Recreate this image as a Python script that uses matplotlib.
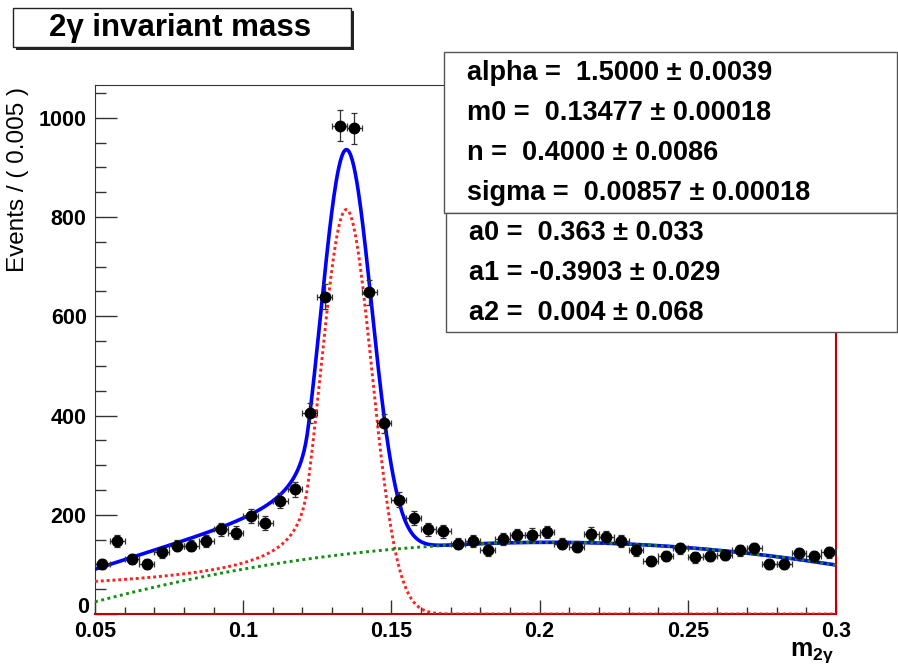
import numpy as np
import matplotlib
matplotlib.use('Agg')
import matplotlib.pyplot as plt
from matplotlib.patches import Rectangle
from matplotlib.ticker import MultipleLocator

plt.rcParams['font.family'] = ['Liberation Sans', 'DejaVu Sans']
plt.rcParams['mathtext.fontset'] = 'custom'
plt.rcParams['mathtext.rm'] = 'Liberation Sans:bold'
plt.rcParams['mathtext.it'] = 'Liberation Sans:bold'
plt.rcParams['mathtext.bf'] = 'Liberation Sans:bold'

# binned data, bin width 0.005 from 0.05 to 0.3
bin_lo = 0.05
bin_w = 0.005
counts = [101, 148, 111, 100, 124, 138, 138, 148, 171, 164,
          198, 183, 228, 251, 406, 639, 984, 979, 648, 384,
          230, 193, 171, 167, 142, 147, 129, 151, 159, 160,
          165, 142, 136, 162, 155, 147, 129, 107, 117, 132,
          114, 117, 119, 128, 132, 101, 101, 122, 116, 124]

# fit parameters (from the stats box)
alpha, m0, n_cb, sigma = 1.5000, 0.13477, 0.4000, 0.00857
a0, a1, a2 = 0.363, -0.3903, 0.004
sig_peak = 815.0   # height of signal component at m0
bg_scale = 101.0   # scale of background polynomial

stat_lines_sig = ['alpha =  1.5000 \u00b1 0.0039',
                  'm0 =  0.13477 \u00b1 0.00018',
                  'n =  0.4000 \u00b1 0.0086',
                  'sigma =  0.00857 \u00b1 0.00018']
stat_lines_bg = ['a0 =  0.363 \u00b1 0.033',
                 'a1 = -0.3903 \u00b1 0.029',
                 'a2 =  0.004 \u00b1 0.068']
xtick_vals = [0.05, 0.1, 0.15, 0.2, 0.25, 0.3]
xtick_labels = ['0.05', '0.1', '0.15', '0.2', '0.25', '0.3']
ytick_vals = [0, 200, 400, 600, 800, 1000]
ytick_labels = ['', '200', '400', '600', '800', '1000']  # "0" drawn separately


def crystal_ball(x):
    t = (x - m0) / sigma
    A = (n_cb / abs(alpha)) ** n_cb * np.exp(-alpha ** 2 / 2)
    B = n_cb / abs(alpha) - abs(alpha)
    core = np.exp(-t ** 2 / 2)
    tail = A / np.abs(B - t) ** n_cb
    return np.where(t > -alpha, core, tail)


def chebychev(x):
    u = 2 * (x - 0.05) / 0.25 - 1
    return 1 + a0 * u + a1 * (2 * u ** 2 - 1) + a2 * (4 * u ** 3 - 3 * u)


centers = bin_lo + bin_w * (np.arange(len(counts)) + 0.5)
counts = np.array(counts)
errs = np.sqrt(counts)

xs = np.linspace(0.05, 0.3, 1000)
sig = sig_peak * crystal_ball(xs)
bkg = bg_scale * chebychev(xs)

fig = plt.figure(figsize=(8.98, 6.71), dpi=100)
ax = fig.add_axes([95 / 898, 1 - 614 / 671, 741 / 898, 529 / 671])

ax.plot(xs, sig + bkg, color='#0000ff', lw=2.6, zorder=3)
ax.plot(xs, sig, color='#ff2020', lw=2.1, ls=(0, (1, 1)), zorder=4)
ax.plot(xs, bkg, color='#109010', lw=2.1, ls=(0, (1, 1.2)), zorder=4)
ax.errorbar(centers, counts, yerr=errs, xerr=bin_w / 2, fmt='o', color='black',
            ms=7.5, ecolor='#333333', elinewidth=0.9, capsize=2, capthick=0.9, zorder=5)

ax.set_xlim(0.05, 0.3)
ax.set_ylim(0, 1066)
ax.xaxis.set_minor_locator(MultipleLocator(0.01))
ax.yaxis.set_minor_locator(MultipleLocator(50))
ax.tick_params(axis='x', which='major', direction='in', length=10, width=1, color='#333333',
               labelsize=15.5, pad=5)
ax.tick_params(axis='x', which='minor', direction='in', length=5, width=1, color='#333333')
ax.tick_params(axis='y', which='major', direction='in', length=16, width=1, color='#333333',
               labelsize=15.5, pad=6)
ax.tick_params(axis='y', which='minor', direction='in', length=8, width=1, color='#333333')
ax.set_xticks(xtick_vals)
ax.set_xticklabels(xtick_labels, fontweight='bold')
ax.set_yticks(ytick_vals)
ax.set_yticklabels(ytick_labels, fontweight='bold')
# the "0" on the y axis sits a little higher, just above the "0.05"
ax.annotate('0', xy=(0, 0), xycoords=('axes fraction', 'data'), xytext=(-4.5, 5),
            textcoords='offset points', ha='right', va='center',
            fontsize=15.5, fontweight='bold', annotation_clip=False)

for s in ['top', 'left']:
    ax.spines[s].set_color('#333333')
for s in ['bottom', 'right']:
    ax.spines[s].set_color('#c00000')
    ax.spines[s].set_linewidth(1.5)

fig.text(18 / 898, 1 - 87 / 671, 'Events / ( 0.005 )', rotation=90, ha='center', va='top',
         fontsize=17.5)
fig.text(834 / 898, 1 - 653 / 671, r'm$_{2\gamma}$', ha='right', va='center',
         fontsize=18, fontweight='bold')

# title box with shadow
fig.patches.append(Rectangle((16 / 898, 1 - 50 / 671), 338 / 898, 39 / 671,
                             transform=fig.transFigure, facecolor='#222222',
                             edgecolor='none', zorder=1))
fig.patches.append(Rectangle((13 / 898, 1 - 47 / 671), 338 / 898, 39 / 671,
                             transform=fig.transFigure, facecolor='white',
                             edgecolor='#222222', lw=1, zorder=2))
fig.text(180 / 898, 1 - 28 / 671, '2\u03b3 invariant mass', ha='center', va='center',
         fontsize=22.5, fontweight='bold', zorder=3)

# stats boxes
fig.patches.append(Rectangle((444 / 898, 1 - 213 / 671), 453 / 898, 161 / 671,
                             transform=fig.transFigure, facecolor='white',
                             edgecolor='#555555', lw=1, zorder=6))
fig.patches.append(Rectangle((446 / 898, 1 - 332 / 671), 451 / 898, 119 / 671,
                             transform=fig.transFigure, facecolor='white',
                             edgecolor='#555555', lw=1, zorder=6))
for i, s in enumerate(stat_lines_sig):
    fig.text(467 / 898, 1 - (73 + 40 * i) / 671, s, ha='left', va='center',
             fontsize=19.5, fontweight='bold', zorder=7)
for i, s in enumerate(stat_lines_bg):
    fig.text(469 / 898, 1 - (233 + 40 * i) / 671, s, ha='left', va='center',
             fontsize=19.5, fontweight='bold', zorder=7)

fig.savefig('out.png', dpi=100, facecolor='white')
